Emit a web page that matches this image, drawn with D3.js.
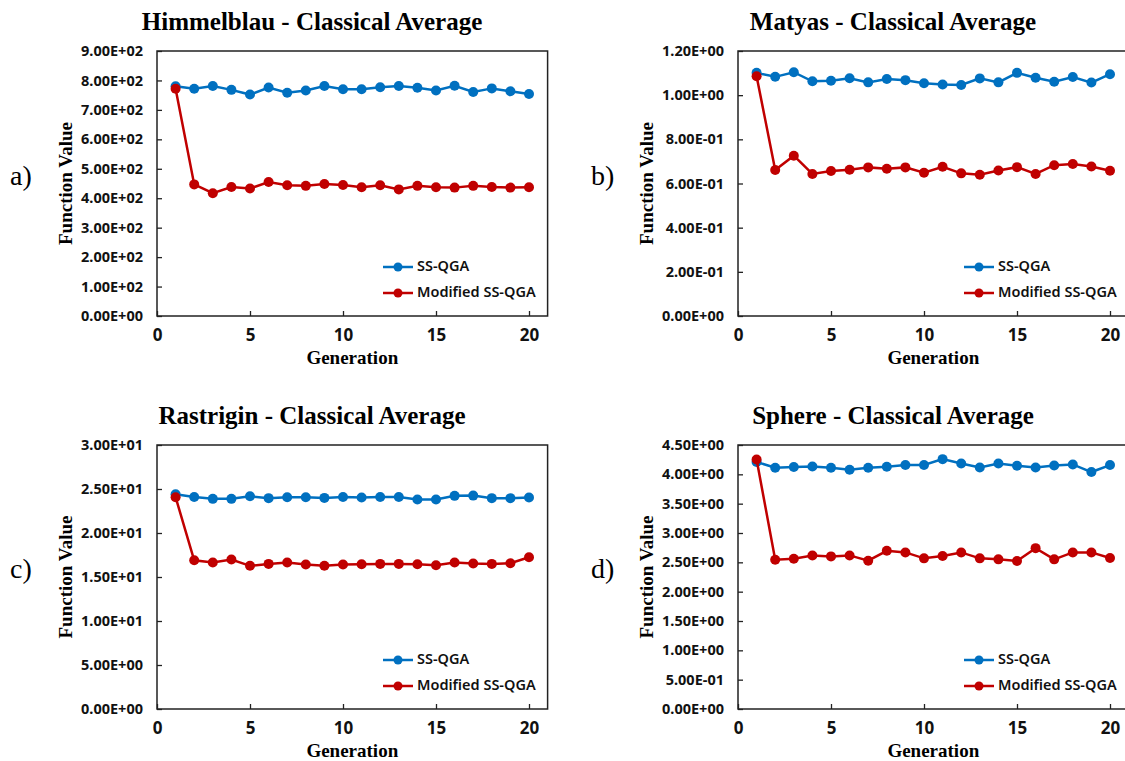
<!DOCTYPE html>
<html>
<head>
<meta charset="utf-8">
<script src="https://cdn.jsdelivr.net/npm/d3@7"></script>
<style>
  html, body { margin: 0; padding: 0; background: #fff; }
  svg { display: block; }
</style>
</head>
<body>
<svg id="chart" width="1125" height="761"></svg>
<script>
// ---------------- DATA ----------------
const generations = [1,2,3,4,5,6,7,8,9,10,11,12,13,14,15,16,17,18,19,20];
const seriesNames = ["SS-QGA", "Modified SS-QGA"];
const xTicks = [0, 5, 10, 15, 20];

const himmelblauSS  = [780,772,781,768,752,776,758,766,781,770,770,777,781,775,766,782,761,773,763,754];
const himmelblauMod = [772,447,417,438,433,455,444,442,448,445,437,444,430,442,437,436,442,438,436,437];
const himmelblauTicks = [0,100,200,300,400,500,600,700,800,900];

const matyasSS  = [1.101,1.083,1.104,1.063,1.065,1.077,1.058,1.073,1.068,1.054,1.048,1.046,1.076,1.058,1.101,1.079,1.061,1.082,1.057,1.095];
const matyasMod = [1.086,0.661,0.726,0.643,0.657,0.662,0.673,0.667,0.673,0.649,0.676,0.646,0.640,0.659,0.674,0.643,0.683,0.688,0.677,0.658];
const matyasTicks = [0,0.2,0.4,0.6,0.8,1.0,1.2];

const rastriginSS  = [24.4,24.1,23.88,23.88,24.18,23.96,24.07,24.07,23.99,24.1,24.03,24.1,24.1,23.8,23.8,24.22,24.25,23.96,23.96,24.03];
const rastriginMod = [24.07,16.9,16.64,16.98,16.27,16.49,16.64,16.42,16.27,16.42,16.45,16.49,16.49,16.45,16.34,16.64,16.53,16.49,16.57,17.24];
const rastriginTicks = [0,5,10,15,20,25,30];

const sphereSS  = [4.21,4.113,4.124,4.135,4.113,4.079,4.113,4.13,4.158,4.158,4.259,4.186,4.118,4.186,4.146,4.118,4.152,4.169,4.039,4.158];
const sphereMod = [4.254,2.545,2.562,2.618,2.601,2.618,2.528,2.697,2.669,2.568,2.607,2.669,2.568,2.551,2.523,2.742,2.551,2.669,2.669,2.573];
const sphereTicks = [0,0.5,1.0,1.5,2.0,2.5,3.0,3.5,4.0,4.5];

const panelTitles = ["Himmelblau - Classical Average","Matyas - Classical Average","Rastrigin - Classical Average","Sphere - Classical Average"];
const panelLetters = ["a)","b)","c)","d)"];
const xLabel = "Generation";
const yLabel = "Function Value";

// ---------------- STYLE / LAYOUT ----------------
const colors = ["#0070C0", "#C00000"];
const sansFont = "'Noto Sans', 'Open Sans', sans-serif";
const serifFont = "'Liberation Serif', 'DejaVu Serif', serif";

const panels = [
  {left:157, top:51,  bottom:316, ss:himmelblauSS, mod:himmelblauMod, ticks:himmelblauTicks},
  {left:738, top:51,  bottom:316, ss:matyasSS,     mod:matyasMod,     ticks:matyasTicks},
  {left:157, top:445, bottom:709, ss:rastriginSS,  mod:rastriginMod,  ticks:rastriginTicks},
  {left:738, top:445, bottom:709, ss:sphereSS,     mod:sphereMod,     ticks:sphereTicks}
];
const unitPx = 18.6;      // px per generation
const xMax = 21;

function sciFormat(v) {
  if (v === 0) return "0.00E+00";
  let e = Math.floor(Math.log10(Math.abs(v)) + 1e-9);
  let m = v / Math.pow(10, e);
  if (Math.abs(m) >= 9.995) { m /= 10; e += 1; }
  const sign = e < 0 ? "-" : "+";
  const ae = Math.abs(e);
  return m.toFixed(2) + "E" + sign + (ae < 10 ? "0" + ae : "" + ae);
}

const svg = d3.select("#chart");

panels.forEach((p, i) => {
  const right = p.left + unitPx * xMax;
  const x = d3.scaleLinear().domain([0, xMax]).range([p.left, right]);
  const yMaxV = p.ticks[p.ticks.length - 1];
  const y = d3.scaleLinear().domain([0, yMaxV]).range([p.bottom, p.top]);

  const g = svg.append("g");

  // Title
  g.append("text")
    .attr("x", p.left + 155)
    .attr("y", p.top - 21)
    .attr("text-anchor", "middle")
    .attr("font-family", serifFont)
    .attr("font-weight", "bold")
    .attr("font-size", 25)
    .attr("fill", "#000")
    .text(panelTitles[i]);

  // Panel letter
  g.append("text")
    .attr("x", p.left - 147)
    .attr("y", (p.top + p.bottom) / 2 - 5)
    .attr("dominant-baseline", "middle")
    .attr("font-family", serifFont)
    .attr("font-size", 28)
    .attr("fill", "#000")
    .text(panelLetters[i]);

  // Y axis label
  g.append("text")
    .attr("transform", `translate(${p.left - 89},${(p.top + p.bottom) / 2}) rotate(-90)`)
    .attr("text-anchor", "middle")
    .attr("dominant-baseline", "middle")
    .attr("font-family", serifFont)
    .attr("font-weight", "bold")
    .attr("font-size", 19)
    .attr("fill", "#000")
    .text(yLabel);

  // X axis label
  g.append("text")
    .attr("x", x(10.5))
    .attr("y", p.bottom + 48)
    .attr("text-anchor", "middle")
    .attr("font-family", serifFont)
    .attr("font-weight", "bold")
    .attr("font-size", 19)
    .attr("fill", "#000")
    .text(xLabel);

  // Axes
  const yAxis = d3.axisLeft(y).tickValues(p.ticks).tickSizeInner(-5).tickSizeOuter(0)
    .tickPadding(14).tickFormat(sciFormat);
  const ya = g.append("g").attr("transform", `translate(${p.left},0)`).call(yAxis);
  ya.select(".domain").remove();
  ya.selectAll("line").attr("stroke", "#222").attr("stroke-width", 1.3);
  ya.selectAll("text").attr("font-family", sansFont).attr("font-weight", "bold")
    .attr("font-size", 14.5).attr("fill", "#111");

  const xAxis = d3.axisBottom(x).tickValues(xTicks).tickSizeInner(-5).tickSizeOuter(0)
    .tickPadding(13).tickFormat(d3.format("d"));
  const xa = g.append("g").attr("transform", `translate(0,${p.bottom})`).call(xAxis);
  xa.select(".domain").remove();
  xa.selectAll("line").attr("stroke", "#222").attr("stroke-width", 1.3);
  xa.selectAll("text").attr("font-family", sansFont).attr("font-weight", "bold")
    .attr("font-size", 17).attr("fill", "#111");

  // Plot frame
  g.append("rect")
    .attr("x", p.left).attr("y", p.top)
    .attr("width", right - p.left).attr("height", p.bottom - p.top)
    .attr("fill", "none").attr("stroke", "#222").attr("stroke-width", 1.5);

  // Series
  const series = [p.ss, p.mod];
  const line = d3.line().x((d, j) => x(generations[j])).y(d => y(d));
  series.forEach((vals, s) => {
    g.append("path").datum(vals)
      .attr("d", line)
      .attr("fill", "none")
      .attr("stroke", colors[s])
      .attr("stroke-width", 2.5);
    g.selectAll(null).data(vals).enter().append("circle")
      .attr("cx", (d, j) => x(generations[j]))
      .attr("cy", d => y(d))
      .attr("r", 5)
      .attr("fill", colors[s]);
  });

  // Legend
  const lx = p.left + 226;
  const rows = [p.bottom - 49, p.bottom - 23];
  seriesNames.forEach((name, s) => {
    g.append("line")
      .attr("x1", lx).attr("x2", lx + 30)
      .attr("y1", rows[s]).attr("y2", rows[s])
      .attr("stroke", colors[s]).attr("stroke-width", 2.5);
    g.append("circle").attr("cx", lx + 15).attr("cy", rows[s]).attr("r", 4.5).attr("fill", colors[s]);
    g.append("text")
      .attr("x", lx + 34).attr("y", rows[s])
      .attr("dominant-baseline", "middle")
      .attr("font-family", sansFont)
      .attr("font-weight", 600)
      .attr("font-size", 14.5)
      .attr("fill", "#111")
      .text(name);
  });
});
</script>
</body>
</html>
